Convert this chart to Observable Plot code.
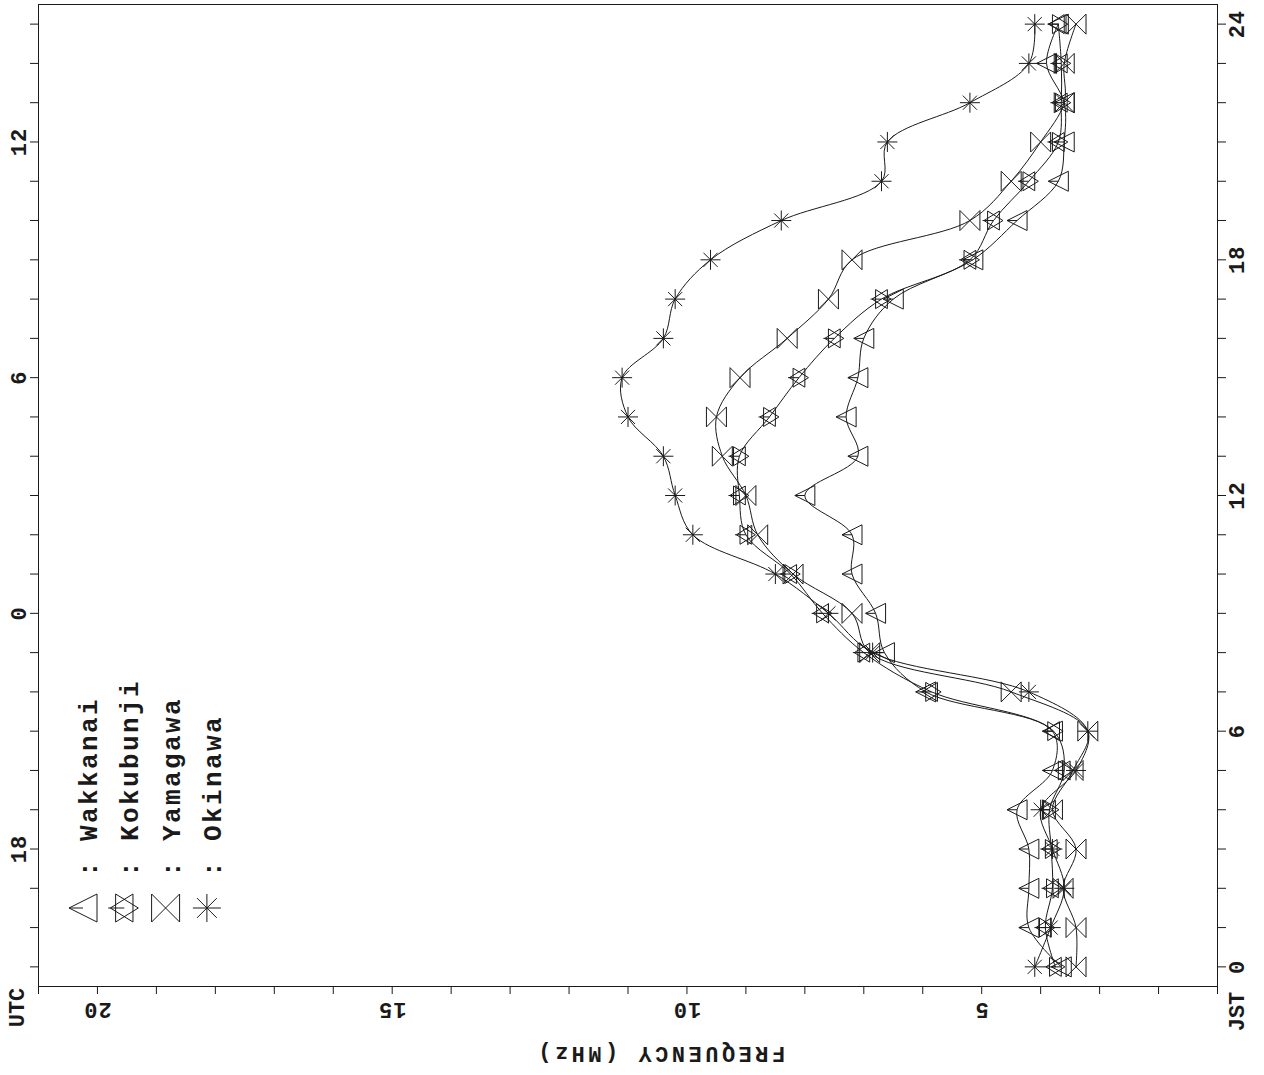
<!DOCTYPE html>
<html>
<head>
<meta charset="utf-8">
<script src="https://cdn.jsdelivr.net/npm/d3@7"></script>
<script src="https://cdn.jsdelivr.net/npm/@observablehq/plot@0.6"></script>
<style>
  html, body { margin: 0; padding: 0; background: #fff; }
  #chart svg { display: block; }
</style>
</head>
<body>
<div id="chart"></div>
<script>
// Hourly critical frequency (MHz) at four ionosonde stations, by Japan Standard Time.
const stations = ["Wakkanai", "Kokubunji", "Yamagawa", "Okinawa"];
const jstHours = [0, 1, 2, 3, 4, 5, 6, 7, 8, 9, 10, 11, 12, 13, 14, 15, 16, 17, 18, 19, 20, 21, 22, 23, 24];
const wakkanai  = [3.65, 4.2, 4.2, 4.2, 4.4, 3.8, 3.8, 5.95, 6.65, 6.8, 7.2, 7.2, 8.0, 7.1, 7.3, 7.1, 7.0, 6.5, 5.15, 4.4, 3.7, 3.6, 3.6, 3.9, 3.7];
const kokubunji = [3.75, 3.92, 3.8, 3.82, 3.85, 3.6, 3.78, 5.85, 7.0, 7.7, 8.24, 9.0, 9.11, 9.11, 8.6, 8.1, 7.5, 6.7, 5.2, 4.8, 4.2, 3.7, 3.65, 3.65, 3.7];
const yamagawa  = [3.4, 3.4, 3.62, 3.4, 3.8, 3.45, 3.2, 4.5, 6.9, 7.2, 8.2, 8.8, 9.0, 9.4, 9.5, 9.1, 8.3, 7.6, 7.2, 5.2, 4.5, 4.0, 3.6, 3.6, 3.4];
const okinawa   = [4.1, 3.83, 3.6, 3.8, 4.0, 3.4, 3.2, 4.2, 6.85, 7.6, 8.5, 9.9, 10.2, 10.4, 11.0, 11.1, 10.4, 10.2, 9.6, 8.4, 6.7, 6.6, 5.2, 4.2, 4.1];

// Axis ticks and labels
const freqTicks = [1, 2, 3, 4, 5, 6, 7, 8, 9, 10, 11, 12, 13, 14, 15, 16, 17, 18, 19, 20, 21];
const freqLabels = [5, 10, 15, 20];
const jstLabels = [0, 6, 12, 18, 24];
const utcLabels = [18, 0, 6, 12];   // UTC = JST - 9
const utcAtJst = [3, 9, 15, 21];

const series = [wakkanai, kokubunji, yamagawa, okinawa];
const rows = stations.flatMap((s, k) => jstHours.map((h, i) => ({station: s, h, f: series[k][i]})));

// Marker shapes, drawn at the dot radius r
const radius = (size) => Math.sqrt(size / Math.PI);
const triangleLeft = {draw(ctx, size) {
  const r = radius(size);
  ctx.moveTo(-r, 0); ctx.lineTo(r, -r); ctx.lineTo(r, r); ctx.closePath();
  ctx.moveTo(-r, 0); ctx.lineTo(0, 0);
}};
const hexagram = {draw(ctx, size) {
  const r = radius(size), a = 0.62 * r;
  ctx.moveTo(-r, 0); ctx.lineTo(a, -r); ctx.lineTo(a, r); ctx.closePath();
  ctx.moveTo(r, 0); ctx.lineTo(-a, -r); ctx.lineTo(-a, r); ctx.closePath();
  ctx.moveTo(-r * 1.15, 0); ctx.lineTo(0, 0);
}};
const bowtie = {draw(ctx, size) {
  const r = radius(size);
  ctx.moveTo(-r, -r); ctx.lineTo(r, r); ctx.lineTo(r, -r); ctx.lineTo(-r, r); ctx.closePath();
}};
const asterisk = {draw(ctx, size) {
  const r = radius(size), d = r * Math.SQRT1_2;
  ctx.moveTo(-r, 0); ctx.lineTo(r, 0);
  ctx.moveTo(0, -r); ctx.lineTo(0, r);
  ctx.moveTo(-d, -d); ctx.lineTo(d, d);
  ctx.moveTo(-d, d); ctx.lineTo(d, -d);
}};
const symbols = [triangleLeft, hexagram, bowtie, asterisk];
const symbolRadius = [10, 9.5, 10, 10];

const ink = "#1a1a1a";
const font = "'Liberation Mono', 'DejaVu Sans Mono', monospace";
const label = {fontSize: 22, fontWeight: "bold", fill: ink, textAnchor: "middle", lineAnchor: "middle"};

const chart = Plot.plot({
  width: 1264,
  height: 1075,
  marginLeft: 38,
  marginRight: 47,
  marginTop: 4,
  marginBottom: 89,
  x: {domain: [21, 1]},
  y: {domain: [-0.5, 24.5]},
  style: {background: "#fff", color: ink, fontFamily: font},
  marks: [
    Plot.frame({stroke: ink, strokeWidth: 1}),
    Plot.axisX({anchor: "bottom", ticks: freqTicks, tickSize: 8, tickFormat: () => "", label: null, stroke: ink}),
    Plot.axisY({anchor: "left", ticks: jstHours, tickSize: 8, tickFormat: () => "", label: null, stroke: ink}),
    Plot.axisY({anchor: "right", ticks: jstHours, tickSize: 8, tickFormat: () => "", label: null, stroke: ink}),

    // frequency tick labels, turned upside down
    Plot.text(freqLabels, {x: (d) => d, text: (d) => String(d), frameAnchor: "bottom", dy: 24, rotate: 180,
      ...label, ariaDescription: "tick-label"}),
    Plot.text(["FREQUENCY (MHz)"], {frameAnchor: "bottom", dx: 32, dy: 68, rotate: 180,
      ...label, ariaDescription: "freq-title"}),

    // UTC hours on the left, JST hours on the right
    Plot.text(utcLabels, {y: (d, i) => utcAtJst[i], text: (d) => String(d), frameAnchor: "left", dx: -20, rotate: -90,
      ...label, ariaDescription: "tick-label"}),
    Plot.text(jstLabels, {y: (d) => d, text: (d) => String(d), frameAnchor: "right", dx: 19, rotate: -90,
      ...label, ariaDescription: "tick-label"}),
    Plot.text(["UTC"], {frameAnchor: "bottom-left", dx: -22, dy: 21, rotate: -90, ...label}),
    Plot.text(["JST"], {frameAnchor: "bottom-right", dx: 19, dy: 25, rotate: -90, ...label}),

    // smoothed daily curves
    Plot.line(rows, {x: "f", y: "h", z: "station", curve: "catmull-rom", stroke: ink, strokeWidth: 1}),

    // station markers
    ...stations.map((s, k) => Plot.dot(rows.filter((d) => d.station === s), {
      x: "f", y: "h", symbol: symbols[k], r: symbolRadius[k], fill: "none", stroke: ink, strokeWidth: 1
    }))
  ]
});

// letter spacing for the monospaced labels
const svg = d3.select(chart);
svg.selectAll("g[aria-description='tick-label'] text").style("letter-spacing", "1px");
svg.selectAll("g[aria-description='freq-title'] text").style("letter-spacing", "3.5px");

// station key, written along the time axis
const key = svg.append("g").attr("aria-label", "station key");
stations.forEach((s, k) => {
  const cx = 83 + k * 41.3;
  key.append("path")
    .attr("d", d3.symbol(symbols[k], 14 * 14 * Math.PI)())
    .attr("transform", `translate(${cx},908)`)
    .attr("fill", "none")
    .attr("stroke", ink)
    .attr("stroke-width", 1);
  key.append("text")
    .attr("transform", `translate(${cx + 14},877) rotate(-90)`)
    .attr("text-anchor", "start")
    .attr("font-family", font)
    .attr("font-size", 26)
    .attr("font-weight", "bold")
    .attr("fill", ink)
    .style("letter-spacing", "2.4px")
    .text(": " + s);
});

document.getElementById("chart").append(chart);
</script>
</body>
</html>
